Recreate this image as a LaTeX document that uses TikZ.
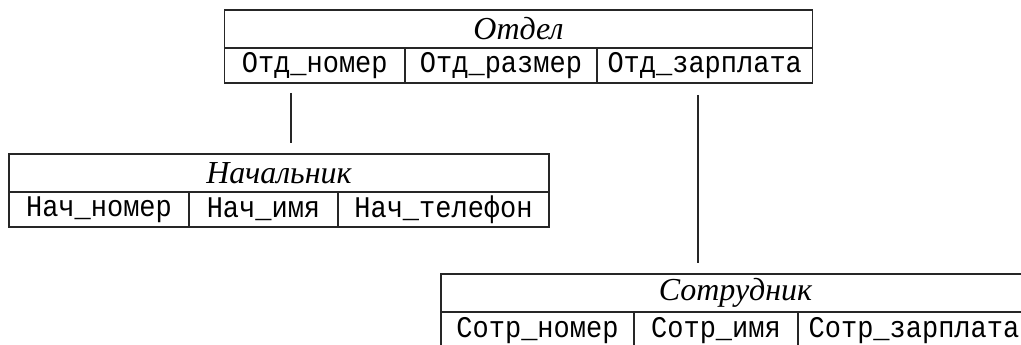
\documentclass[tikz,border=0pt]{standalone}
\usepackage{fontspec}
\setmainfont{Liberation Serif}
\newfontfamily\fieldfont[FakeStretch=0.9]{Liberation Mono}
\usepackage{tikz}

\begin{document}
\begin{tikzpicture}[x=1pt, y=-1pt, line width=1.6pt, draw=black!85,
    head/.style = {draw, rectangle, inner sep=0pt, minimum height=38pt, font=\fontsize{32}{36}\selectfont\itshape},
    field/.style = {draw, rectangle, inner sep=0pt, minimum height=35pt, font=\fontsize{30}{34}\fieldfont}]
        \useasboundingbox (0,0) rectangle (1021,345);
        % Отдел
        \node[head, minimum width=588pt] (otd) at (518.5,29) {Отдел};
        \node[field, minimum width=180.5pt] (otd1) at (314.75,65.5) {Отд\_номер};
        \node[field, minimum width=192pt] (otd2) at (501,65.5) {Отд\_размер};
        \node[field, minimum width=215.5pt] (otd3) at (704.75,65.5) {Отд\_зарплата};
        % Начальник
        \node[head, minimum width=540pt] (nach) at (279,173) {Начальник};
        \node[field, minimum width=180pt] (nach1) at (99,209.5) {Нач\_номер};
        \node[field, minimum width=149pt] (nach2) at (263.5,209.5) {Нач\_имя};
        \node[field, minimum width=211pt] (nach3) at (443.5,209.5) {Нач\_телефон};
        % Сотрудник
        \node[head, minimum width=589pt] (sotr) at (735.5,293) {Сотрудник};
        \node[field, minimum width=193pt, minimum height=37pt] (sotr1) at (537.5,330.5) {Сотр\_номер};
        \node[field, minimum width=164pt, minimum height=37pt] (sotr2) at (716,330.5) {Сотр\_имя};
        \node[field, minimum width=232pt, minimum height=37pt] (sotr3) at (914,330.5) {Сотр\_зарплата};
        % связи
        \coordinate (a1) at (291,93);
        \coordinate (a2) at (291,143);
        \coordinate (b1) at (698,95);
        \coordinate (b2) at (698,263);
        \draw (a1) -- (a2);
        \draw (b1) -- (b2);
    \end{tikzpicture}
\end{document}
